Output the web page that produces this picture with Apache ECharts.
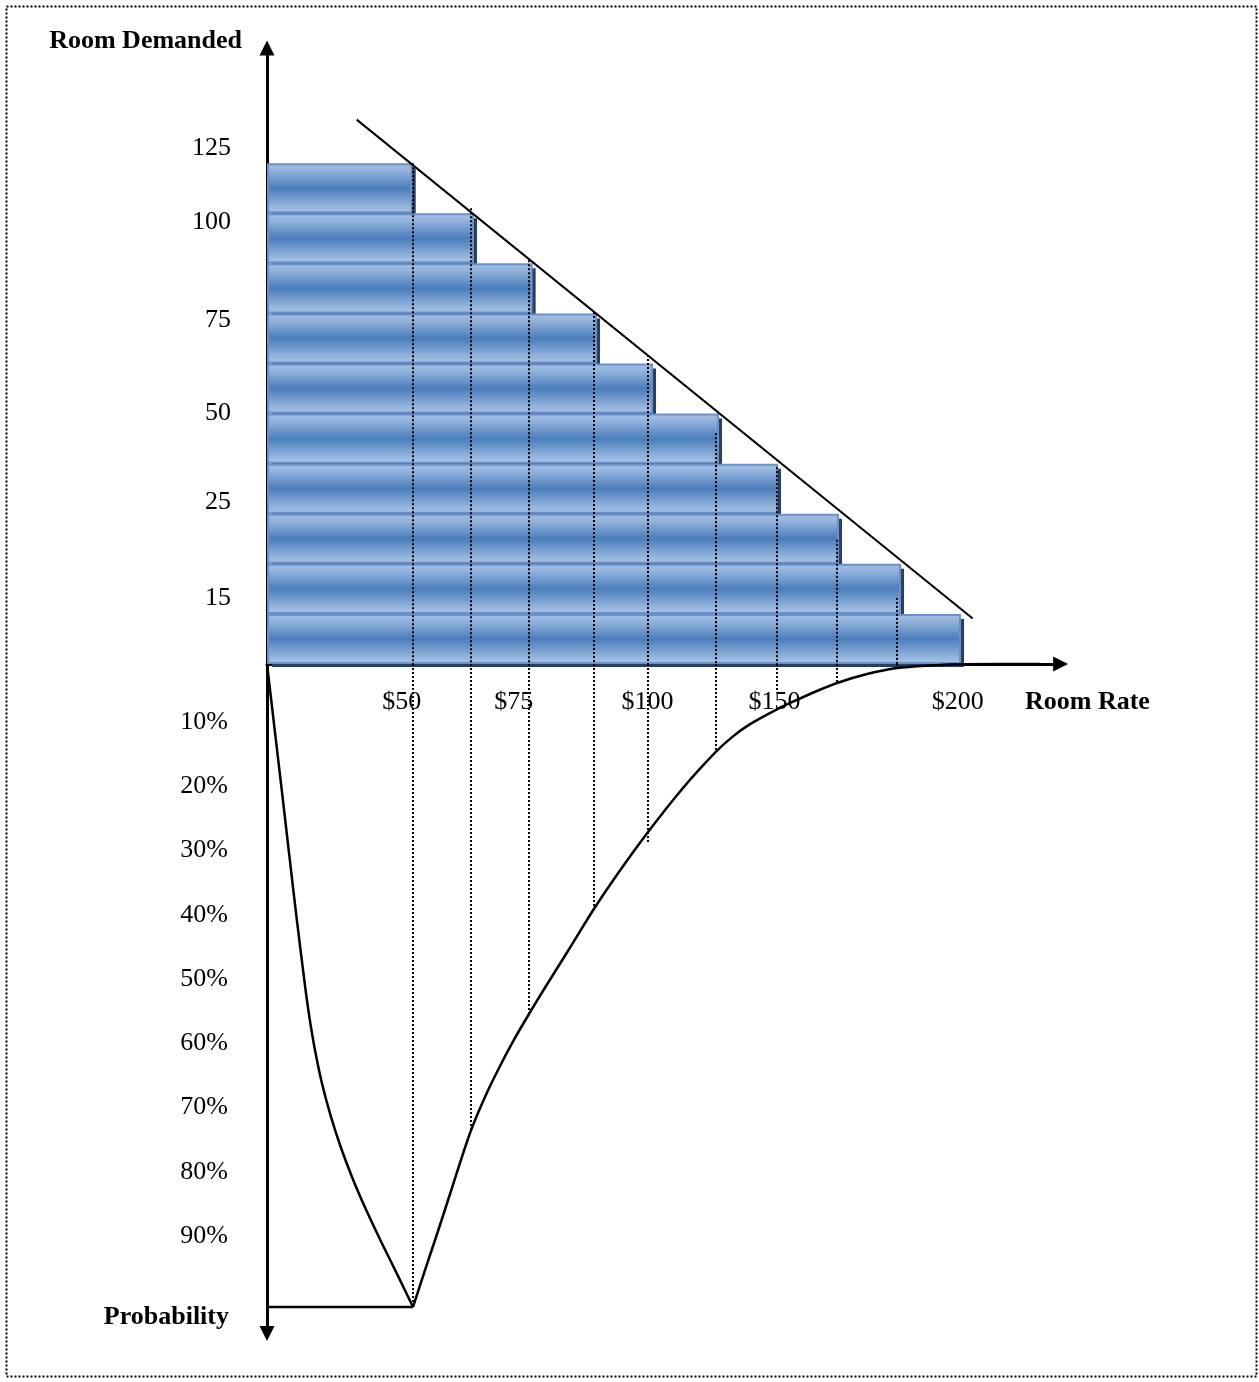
<!DOCTYPE html>
<html><head><meta charset="utf-8">
<script src="https://cdn.jsdelivr.net/npm/echarts@6/dist/echarts.min.js"></script>
<style>html,body{margin:0;padding:0;background:#fff}#c{width:1259px;height:1382px}</style>
</head><body><div id="c"></div>
<script>
// ---------- data (chart units: rate scale 0-100, demand rows, probability %) ----------
const demandTickLabels = ['15', '25', '50', '75', '100', '125'];
const demandTickPos    = [1.32, 3.23, 5.01, 6.87, 8.82, 10.30];
const rateTickLabels   = ['$50', '$75', '$100', '$150', '$200'];
const rateTickPos      = [16.84, 30.85, 47.56, 63.44, 86.35];
const probTicks        = [10, 20, 30, 40, 50, 60, 70, 80, 90];

const barRows = [1, 2, 3, 4, 5, 6, 7, 8, 9, 10];               // row counted from the top
const barEnds = [18.09, 25.75, 33.08, 41.13, 48.13, 56.38, 63.75, 71.38, 79.13, 86.63];

const dropRate = [18.25, 25.5, 32.75, 40.88, 47.63, 56.13, 63.75, 71.25, 78.75];
const dropTop  = [10.0, 9.1, 8.06, 7.03, 6.17, 4.61, 3.93, 2.48, 1.32];
const dropProb = [100, 72.8, 54.6, 37.9, 27.8, 13.7, 4.5, 2.8, 0.5];

const demandLineRate = [11.21, 88.21];
const demandLineRows = [10.87, 0.91];

const probLeftRate = [0, 0.94, 1.88, 2.81, 3.75, 4.75, 5.31, 5.99, 6.83, 7.9, 9.18, 10.7, 12.43, 14.33, 16.31, 18.25];
const probLeftVal  = [0, 10, 20, 30, 40, 50, 55, 60, 65, 70, 75, 80, 85, 90, 95, 100];

const probRightRate = [18.25, 19.75, 21.38, 23.0, 25.38, 27.25, 29.13, 31.0, 32.75, 34.88, 37.5, 40.88, 43.75, 47.63, 52.0, 56.13, 58.25, 60.38, 63.75, 66.25, 68.75, 71.25, 75.0, 78.75, 82.88, 87.0, 96.63];
const probRightVal  = [100, 94.25, 88.18, 81.96, 72.94, 67.34, 62.52, 58.16, 54.43, 50.08, 44.87, 38.07, 32.78, 26.13, 19.28, 13.64, 11.26, 9.36, 7.05, 5.58, 4.2, 2.95, 1.56, 0.62, 0.22, 0.02, 0];

const floorRate = [0, 18.25];
const floorProb = [100, 100];

// ---------- chart ----------
const FONT = "'Liberation Serif','Times New Roman',serif";
const XMAX = 99.2;
const zip = (a, b) => a.map((v, i) => [v, b[i]]);

const chart = echarts.init(document.getElementById('c'), null, {renderer: 'canvas'});

const axisLineStyle = {color: '#000', width: 3};
const barFill = {
  type: 'linear', x: 0, y: 0, x2: 0, y2: 1,
  colorStops: [
    {offset: 0, color: '#a6c0e4'},
    {offset: 0.15, color: '#93b2dc'},
    {offset: 0.5, color: '#4a7ebb'},
    {offset: 0.85, color: '#93b2dc'},
    {offset: 1, color: '#abc4e6'}
  ]
};

function dotLine(a, b) {
  const x = Math.round(a[0]);
  return {type: 'line', shape: {x1: x, y1: a[1], x2: x, y2: b[1]},
          style: {stroke: '#000', lineWidth: 2, lineDash: [2, 2]}};
}

const option = {
  animation: false,
  backgroundColor: '#fff',
  grid: [
    {left: 267, top: 48, width: 793.6, height: 616},
    {left: 267, top: 664, width: 793.6, height: 669.5}
  ],
  xAxis: [
    {gridIndex: 0, type: 'value', min: 0, max: XMAX,
     axisLine: {show: true, onZero: false, lineStyle: axisLineStyle, symbol: ['none', 'triangle'], symbolSize: [15, 15]},
     axisTick: {show: false}, axisLabel: {show: false}, splitLine: {show: false}},
    {gridIndex: 1, type: 'value', min: 0, max: XMAX, show: false}
  ],
  yAxis: [
    {gridIndex: 0, type: 'value', min: 0, max: 12.3,
     axisLine: {show: true, onZero: false, lineStyle: axisLineStyle, symbol: ['none', 'triangle'], symbolSize: [15, 15]},
     axisTick: {show: false}, axisLabel: {show: false}, splitLine: {show: false}},
    {gridIndex: 1, type: 'value', min: 0, max: 104.12, interval: 10, inverse: true,
     axisLine: {show: true, onZero: false, lineStyle: axisLineStyle, symbol: ['triangle', 'none'], symbolSize: [15, 15]},
     axisTick: {show: false}, splitLine: {show: false},
     axisLabel: {
       margin: 39, color: '#000', fontFamily: FONT, fontSize: 26, verticalAlign: 'bottom', lineHeight: 13,
       formatter: v => probTicks.indexOf(v) >= 0 ? v + '%' : ''
     }}
  ],
  graphic: [
    {type: 'rect', shape: {x: 6.5, y: 6.5, width: 1250, height: 1370}, z: 0,
     style: {fill: null, stroke: '#000', lineWidth: 2, lineDash: [2, 2]}},
    {type: 'text', x: 242, y: 41, z: 10,
     style: {text: 'Room Demanded', font: "bold 26px " + FONT, fill: '#000', align: 'right', verticalAlign: 'middle'}},
    {type: 'text', x: 1025, y: 702, z: 10,
     style: {text: 'Room Rate', font: "bold 26px " + FONT, fill: '#000', align: 'left', verticalAlign: 'middle'}},
    {type: 'text', x: 229, y: 1317, z: 10,
     style: {text: 'Probability', font: "bold 26px " + FONT, fill: '#000', align: 'right', verticalAlign: 'middle'}}
  ],
  series: [
    { // demand steps
      type: 'custom', xAxisIndex: 0, yAxisIndex: 0, z: 2,
      data: zip(barEnds, barRows),
      renderItem: (params, api) => {
        const end = api.value(0), row = api.value(1);
        const p0 = api.coord([0, 11 - row]);
        const p1 = api.coord([end, 10 - row]);
        const x = p0[0] + 1, y = p0[1] + 1, w = p1[0] - p0[0] - 1, h = p1[1] - p0[1] - 2;
        return {
          type: 'group',
          children: [
            {type: 'rect', shape: {x: x + 4, y: y + 4, width: w, height: h},
             style: {fill: '#263f62'}},
            {type: 'rect', shape: {x: x, y: y, width: w, height: h},
             style: {fill: barFill, stroke: '#6a92c8', lineWidth: 2}}
          ]
        };
      }
    },
    { // dotted drop lines, upper part
      type: 'custom', xAxisIndex: 0, yAxisIndex: 0, z: 3,
      data: zip(dropRate, dropTop),
      renderItem: (params, api) => dotLine(api.coord([api.value(0), api.value(1)]), api.coord([api.value(0), 0]))
    },
    { // dotted drop lines, lower part
      type: 'custom', xAxisIndex: 1, yAxisIndex: 1, z: 3,
      data: zip(dropRate, dropProb),
      renderItem: (params, api) => dotLine(api.coord([api.value(0), 0]), api.coord([api.value(0), api.value(1)]))
    },
    { // demand line
      type: 'line', xAxisIndex: 0, yAxisIndex: 0, z: 4, clip: false,
      data: zip(demandLineRate, demandLineRows), symbol: 'none',
      lineStyle: {color: '#000', width: 2}
    },
    { // probability curve, left branch
      type: 'line', xAxisIndex: 1, yAxisIndex: 1, z: 4, clip: false, smooth: 0.3,
      data: zip(probLeftRate, probLeftVal), symbol: 'none',
      lineStyle: {color: '#000', width: 2.5}
    },
    { // probability curve, right branch
      type: 'line', xAxisIndex: 1, yAxisIndex: 1, z: 4, clip: false, smooth: 0.3,
      data: zip(probRightRate, probRightVal), symbol: 'none',
      lineStyle: {color: '#000', width: 2.5}
    },
    { // floor line at 100%
      type: 'line', xAxisIndex: 1, yAxisIndex: 1, z: 4, clip: false,
      data: zip(floorRate, floorProb), symbol: 'none',
      lineStyle: {color: '#000', width: 2.5}
    },
    { // demand tick labels
      type: 'custom', xAxisIndex: 0, yAxisIndex: 0, z: 5,
      data: demandTickPos.map(p => [0, p]),
      renderItem: (params, api) => {
        const p = api.coord([0, api.value(1)]);
        return {type: 'text', x: p[0] - 36, y: p[1],
                style: {text: demandTickLabels[params.dataIndex], font: '26px ' + FONT, fill: '#000',
                        align: 'right', verticalAlign: 'middle'}};
      }
    },
    { // rate tick labels
      type: 'custom', xAxisIndex: 0, yAxisIndex: 0, z: 5,
      data: rateTickPos.map(p => [p, 0]),
      renderItem: (params, api) => {
        const p = api.coord([api.value(0), 0]);
        return {type: 'text', x: p[0], y: p[1] + 38,
                style: {text: rateTickLabels[params.dataIndex], font: '26px ' + FONT, fill: '#000',
                        align: 'center', verticalAlign: 'middle'}};
      }
    }
  ]
};
chart.setOption(option);
</script>
</body></html>
